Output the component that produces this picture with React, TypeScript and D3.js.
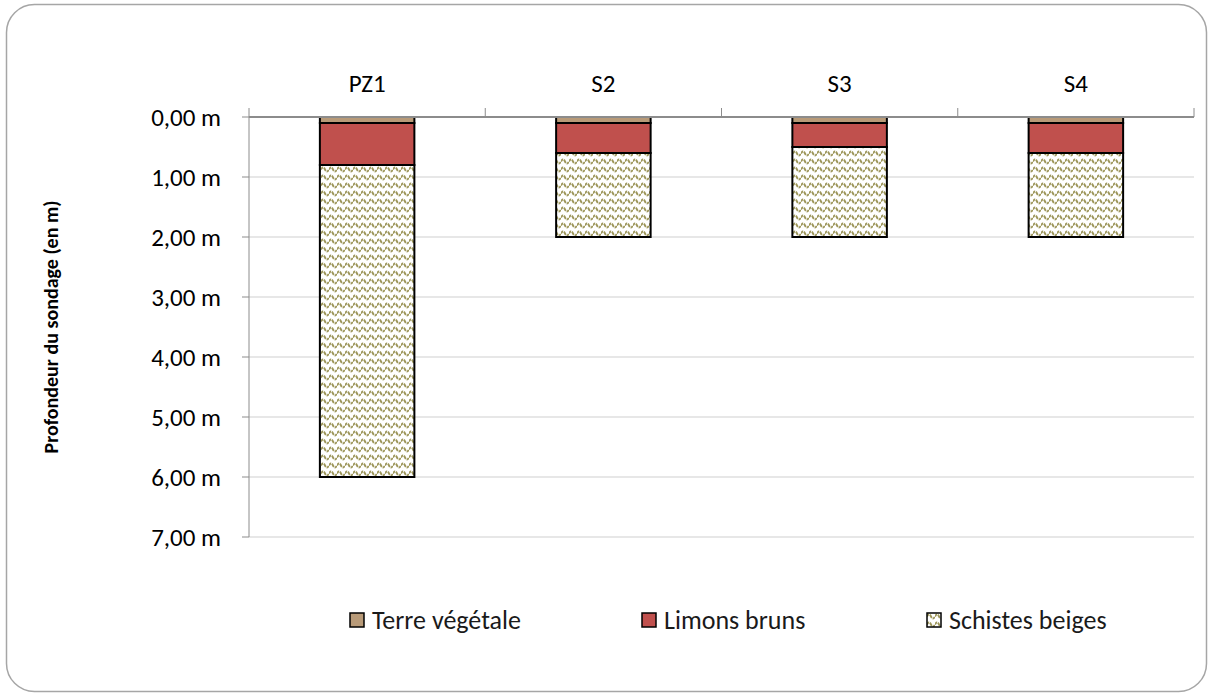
import React from "react";
import * as d3 from "d3";

const width = 1212;
const height = 697;
const margin = { top: 117, right: 18, bottom: 160, left: 249 };

const categories = ["PZ1", "S2", "S3", "S4"];
const terreVegetale = [0.1, 0.1, 0.1, 0.1];
const limonsBruns = [0.7, 0.5, 0.4, 0.5];
const schistesBeiges = [5.2, 1.4, 1.5, 1.4];
const yTicks = [0, 1, 2, 3, 4, 5, 6, 7];

const layers = [
  { name: "Terre végétale", values: terreVegetale, fill: "#b89a78" },
  { name: "Limons bruns", values: limonsBruns, fill: "#c0504d" },
  { name: "Schistes beiges", values: schistesBeiges, fill: "url(#wave)" },
];

const font = "Calibri, Carlito, Lato, 'Open Sans', sans-serif";

export default function App() {
  const innerW = width - margin.left - margin.right;
  const innerH = height - margin.top - margin.bottom;

  const x = d3.scaleBand().domain(categories).range([0, innerW]).paddingInner(0.6).paddingOuter(0.3);
  const xBand = d3.scaleBand().domain(categories).range([0, innerW]);
  const y = d3.scaleLinear().domain([0, 7]).range([0, innerH]);

  const fmt = (v: number) => v.toFixed(2).replace(".", ",") + " m";

  // stack the layers
  const stacked = categories.map((c, i) => {
    let acc = 0;
    return layers.map((l) => {
      const y0 = acc;
      acc += l.values[i];
      return { cat: c, y0, y1: acc, fill: l.fill };
    });
  });

  const legendX = [350, 642, 927];

  return (
    <svg width={width} height={height} style={{ position: "absolute", left: 0, top: 0 }}>
      <defs>
        <pattern id="wave" width={8} height={8} patternUnits="userSpaceOnUse" x={0} y={0}>
          <rect width={8} height={8} fill="#fff" />
          <path d="M0,4.5 Q2,0.5 4,4.5 T8,4.5" fill="none" stroke="#9d965a" strokeWidth={1.9} strokeDasharray="3,1" />
        </pattern>
      </defs>
      <rect x={6.5} y={4.5} width={1200} height={687} rx={28} fill="#fff" stroke="#a6a6a6" strokeWidth={1.5} />
      <g transform={`translate(${margin.left},${margin.top})`}>
        {yTicks.slice(1).map((t) => (
          <line key={t} x1={0} x2={innerW} y1={y(t)} y2={y(t)} stroke="#cfcfcf" strokeWidth={1} />
        ))}
        {stacked.map((segs) =>
          segs.map((s, j) => (
            <rect
              key={s.cat + j}
              x={x(s.cat)!}
              y={y(s.y0)}
              width={x.bandwidth()}
              height={y(s.y1) - y(s.y0)}
              fill={s.fill}
              stroke="#000"
              strokeWidth={2}
            />
          ))
        )}
        {/* left axis */}
        <line x1={0} x2={0} y1={0} y2={innerH} stroke="#8c8c8c" strokeWidth={1} />
        {yTicks.map((t) => (
          <g key={t}>
            <line x1={-7} x2={0} y1={y(t)} y2={y(t)} stroke="#8c8c8c" />
            <text x={-28} y={y(t)} dy="0.35em" textAnchor="end" fontFamily={font} fontSize={25} fill="#000">
              {fmt(t)}
            </text>
          </g>
        ))}
        {/* top axis */}
        <line x1={0} x2={innerW} y1={0} y2={0} stroke="#8c8c8c" strokeWidth={2} />
        {categories.map((c) => (
          <g key={c}>
            <line x1={xBand(c)! + xBand.bandwidth()} x2={xBand(c)! + xBand.bandwidth()} y1={-9} y2={0} stroke="#8c8c8c" />
            <text x={xBand(c)! + xBand.bandwidth() / 2} y={-25} textAnchor="middle" fontFamily={font} fontSize={25} fill="#000">
              {c}
            </text>
          </g>
        ))}
        <line x1={0} x2={0} y1={-9} y2={0} stroke="#8c8c8c" />
      </g>
      <text
        transform={`translate(51,${margin.top + innerH / 2}) rotate(-90)`}
        textAnchor="middle"
        dy="0.35em"
        fontFamily={font}
        fontSize={20}
        fontWeight="bold"
        fill="#000"
      >
        Profondeur du sondage (en m)
      </text>
      {layers.map((l, i) => (
        <g key={l.name} transform={`translate(${legendX[i]},620)`}>
          <rect x={0} y={-7} width={14} height={14} fill={l.fill} stroke="#000" strokeWidth={1.5} />
          <text x={22} y={0} dy="0.35em" fontFamily={font} fontSize={26} fill="#1a1a1a">
            {l.name}
          </text>
        </g>
      ))}
    </svg>
  );
}
